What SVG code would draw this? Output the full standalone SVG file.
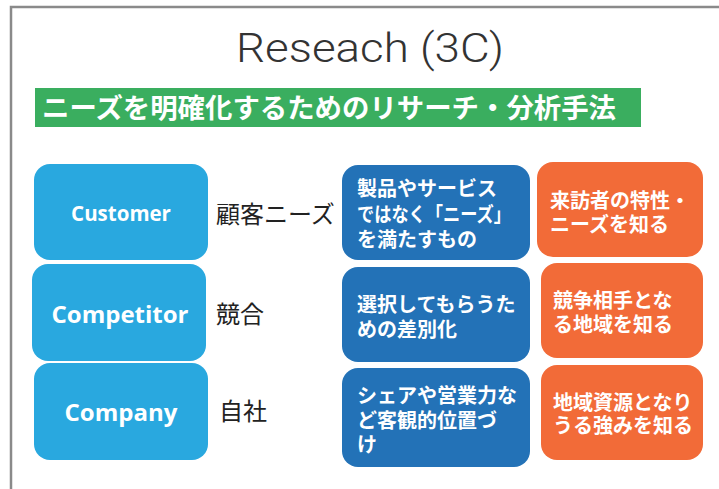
<svg xmlns="http://www.w3.org/2000/svg" width="719" height="489" viewBox="0 0 719 489">
<style>
.jp{font-family:"Noto Sans CJK JP","Noto Sans",sans-serif}
.bt{font-family:"Noto Sans CJK JP",sans-serif;font-weight:bold;font-size:20px;fill:#fff}
.en{font-family:"Open Sans","Noto Sans",sans-serif;font-weight:bold;fill:#fff;text-anchor:middle}
.lb{fill:#29a8df}
.db{fill:#2372b7}
.or{fill:#f26b38}
.lab{font-family:"Noto Sans CJK JP",sans-serif;font-size:24px;fill:#222}
</style>
<rect width="719" height="489" fill="#fff"/>
<path d="M11,489 V7 H719" fill="none" stroke="#8a8a8a" stroke-width="2.5"/>
<g id="title">
<text x="370" y="62" text-anchor="middle" font-family="Roboto,Liberation Sans,sans-serif" font-weight="300" font-size="40" fill="#333" textLength="268" lengthAdjust="spacingAndGlyphs">Reseach (3C)</text>
</g>
<g id="subtitle">
<rect x="35" y="88" width="606" height="39" fill="#3aae5f"/>
<text x="42" y="118" class="jp" font-weight="bold" font-size="27" fill="#fff" textLength="574" lengthAdjust="spacingAndGlyphs">ニーズを明確化するためのリサーチ・分析手法</text>
</g>
<g id="customer">
<rect class="lb" x="34" y="164" width="174" height="96" rx="16"/>
<text class="en" x="121" y="221" font-size="20.5">Customer</text>
</g>
<g id="competitor">
<rect class="lb" x="32" y="264" width="174" height="97" rx="16"/>
<text class="en" x="120" y="323" font-size="24">Competitor</text>
</g>
<g id="company">
<rect class="lb" x="34" y="363" width="174" height="97" rx="16"/>
<text class="en" x="121" y="421" font-size="24">Company</text>
</g>
<g id="labels">
<text class="lab" x="216" y="223">顧客ニーズ</text>
<text class="lab" x="216" y="323">競合</text>
<text class="lab" x="219" y="420">自社</text>
</g>
<g id="needs">
<rect class="db" x="342" y="165" width="188" height="95" rx="16"/>
<text class="bt" x="357" y="196">製品やサービス</text>
<text class="bt" x="357" y="222" textLength="154" lengthAdjust="spacingAndGlyphs">ではなく「ニーズ」</text>
<text class="bt" x="357" y="247">を満たすもの</text>
</g>
<g id="diff">
<rect class="db" x="342" y="267" width="188" height="95" rx="16"/>
<text class="bt" x="357" y="312">選択してもらうた</text>
<text class="bt" x="357" y="337">めの差別化</text>
</g>
<g id="position">
<rect class="db" x="342" y="368" width="188" height="99" rx="16"/>
<text class="bt" x="357" y="403">シェアや営業力な</text>
<text class="bt" x="357" y="428">ど客観的位置づ</text>
<text class="bt" x="357" y="452">け</text>
</g>
<g id="visitors">
<rect class="or" x="537" y="162" width="166" height="95" rx="16"/>
<text class="bt" x="550" y="208">来訪者の特性・</text>
<text class="bt" x="550" y="232">ニーズを知る</text>
</g>
<g id="rivals">
<rect class="or" x="541" y="263" width="162" height="95" rx="16"/>
<text class="bt" x="553" y="308">競争相手とな</text>
<text class="bt" x="553" y="332">る地域を知る</text>
</g>
<g id="strengths">
<rect class="or" x="541" y="365" width="162" height="95" rx="16"/>
<text class="bt" x="553" y="410">地域資源となり</text>
<text class="bt" x="553" y="433">うる強みを知る</text>
</g>
<g id="connectors"></g>
</svg>
